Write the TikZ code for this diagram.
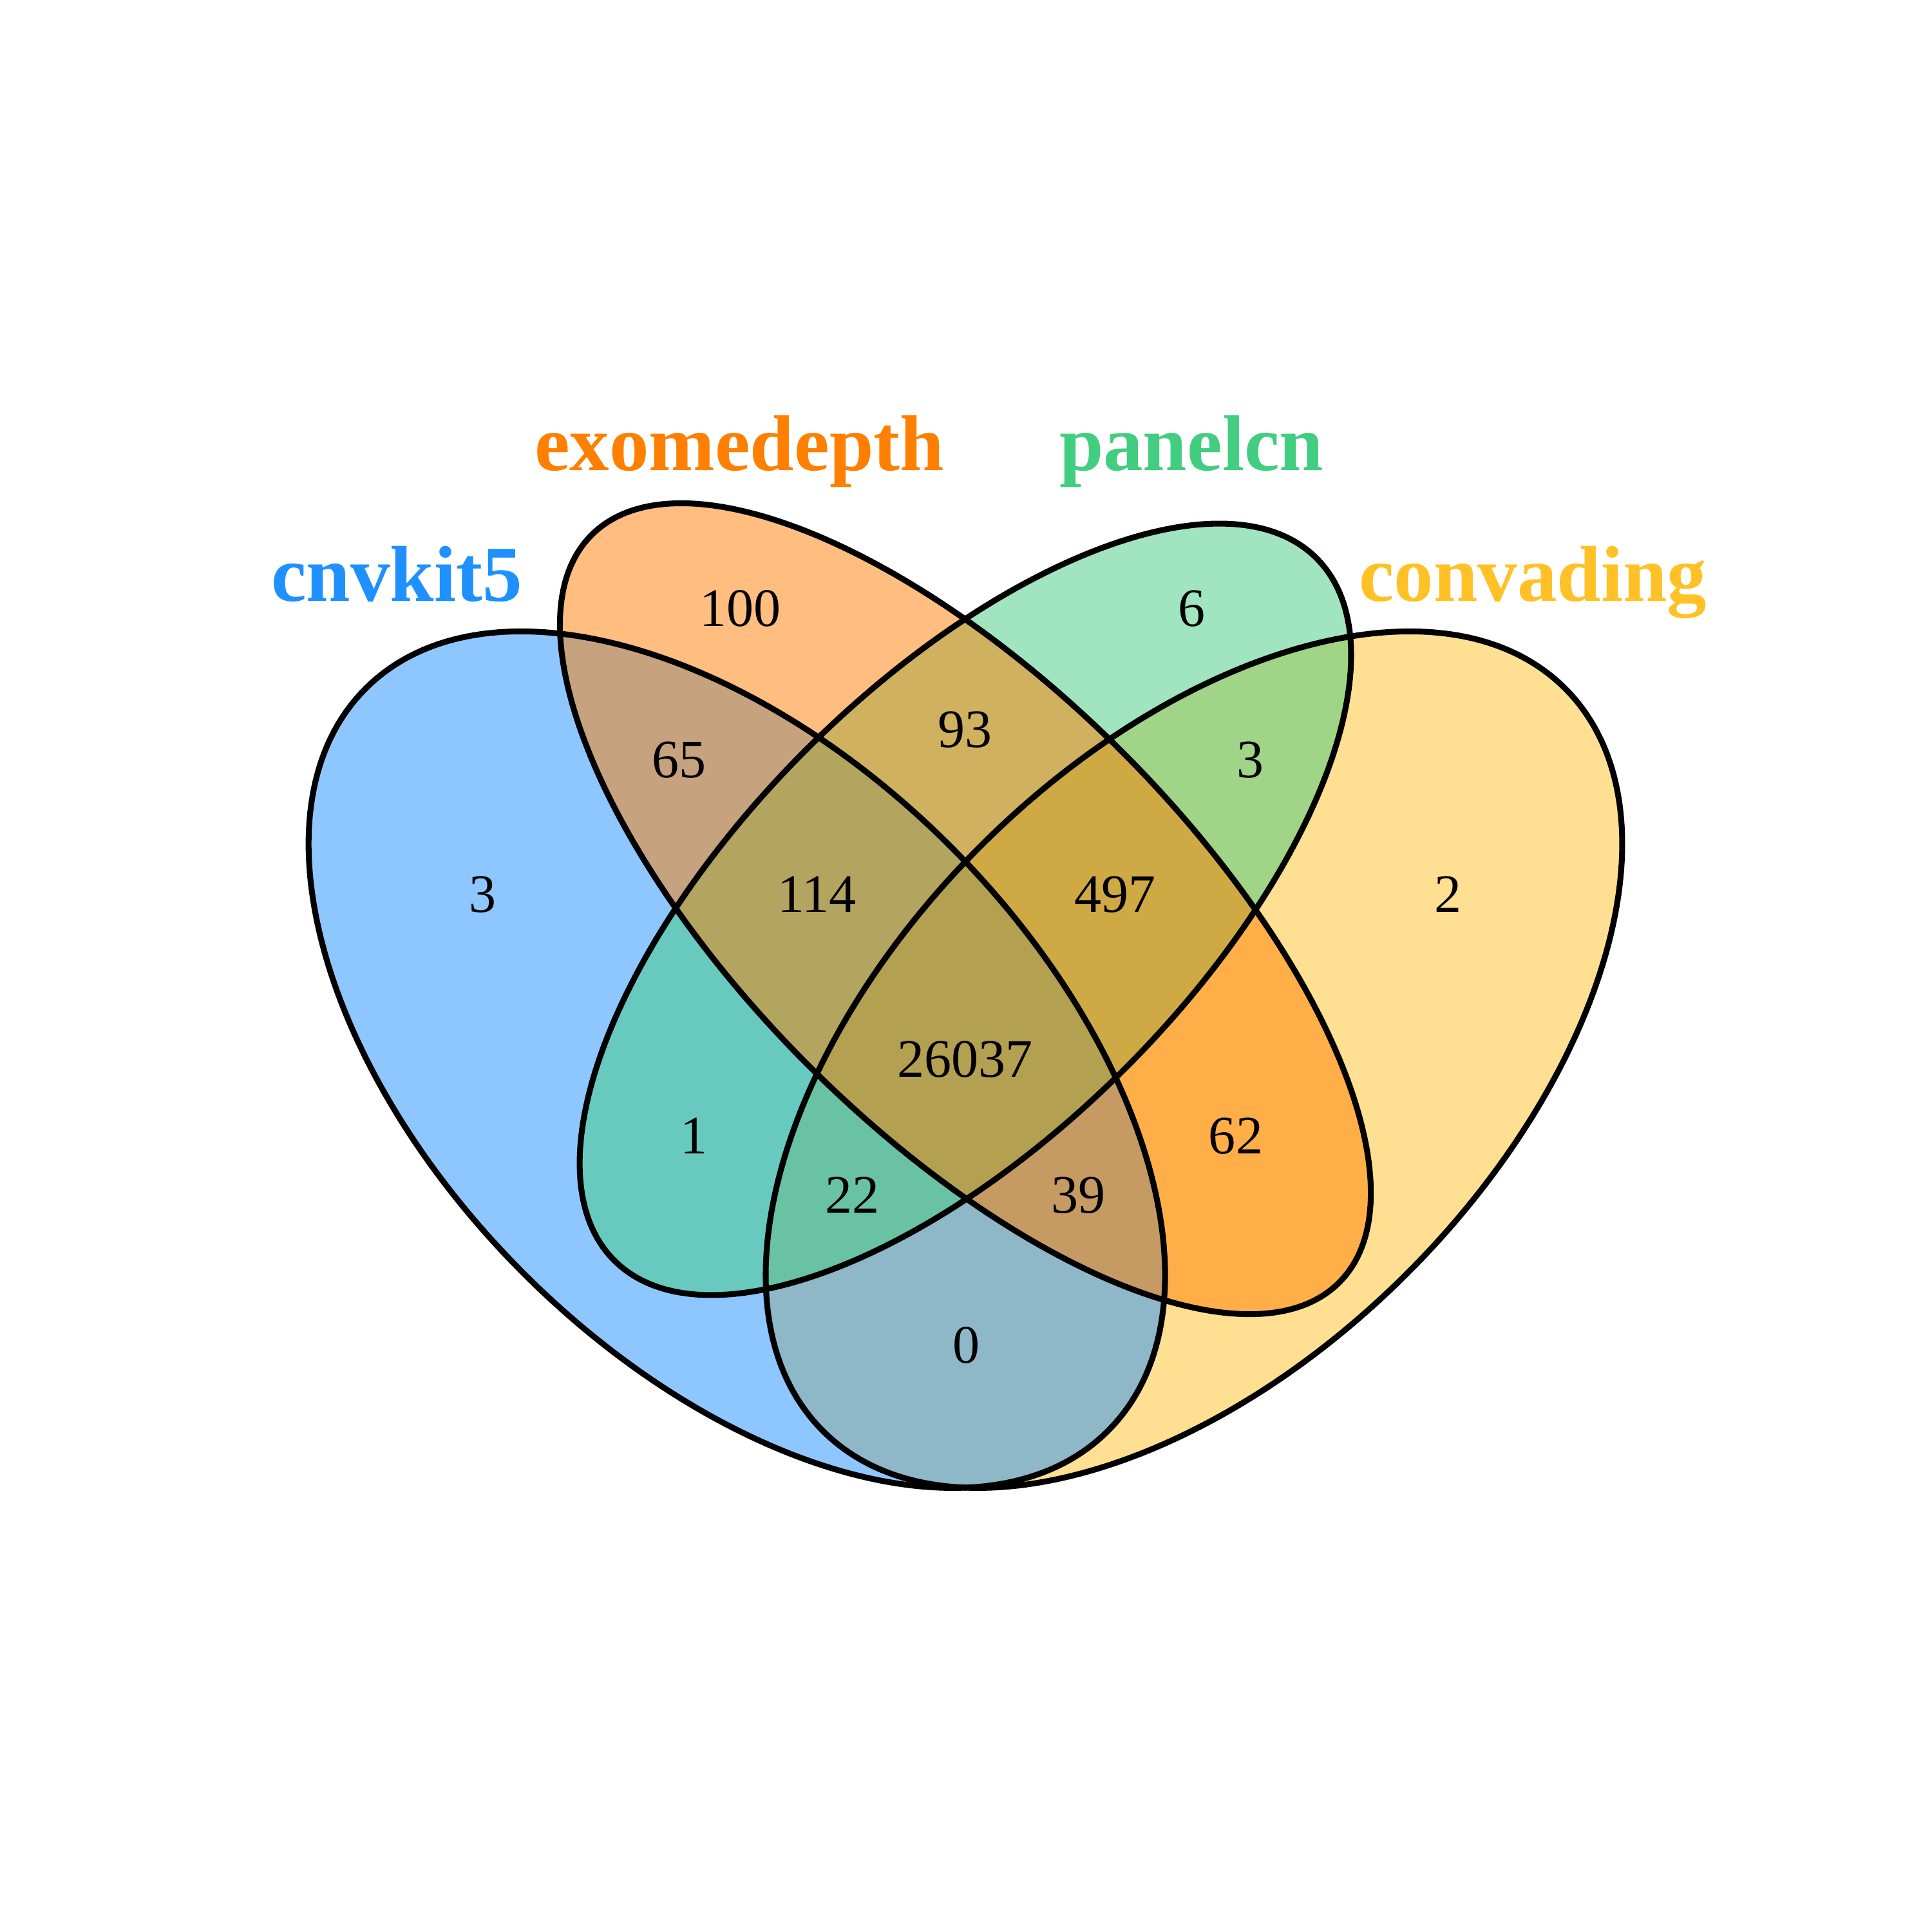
\documentclass[tikz,border=0pt]{standalone}
\usepackage{fontspec}
\setmainfont{Liberation Serif}
\usetikzlibrary{shapes.geometric}
\definecolor{setblue}{HTML}{1E90FF}
\definecolor{setorange}{HTML}{FF7F00}
\definecolor{setgreen}{HTML}{43CD80}
\definecolor{setyellow}{HTML}{FFC125}

\begin{document}
\begin{tikzpicture}[x=1mm, y=-1mm,
  setfill/.style={ellipse, inner sep=0pt, outer sep=0pt, fill opacity=0.5},
  setline/.style={ellipse, inner sep=0pt, outer sep=0pt, draw=black, line width=1.35pt},
  outerset/.style={minimum width=85.2mm, minimum height=49.0mm},
  orangeset/.style={minimum width=85.8mm, minimum height=36.0mm},
  greenset/.style={minimum width=80.6mm, minimum height=36.6mm},
  count/.style={inner sep=0pt, font=\fontsize{12.5}{15}\selectfont},
  setname/.style={anchor=base, inner sep=0pt, font=\fontsize{18.3}{22}\selectfont\bfseries}]
\fill[white] (0,0) rectangle (156.8,156.8);
% filled sets, back to front
\node[setfill, outerset, fill=setyellow, rotate=45] (convading) at (96.9,86.0) {};
\node[setfill, outerset, fill=setblue, rotate=-45] (cnvkit) at (59.8,86.0) {};
\node[setfill, greenset, fill=setgreen, rotate=45] (panelcn) at (78.35,73.8) {};
\node[setfill, orangeset, fill=setorange, rotate=-45] (exome) at (78.35,73.75) {};
% outlines on top
\node[setline, outerset, rotate=45] at (convading.center) {};
\node[setline, outerset, rotate=-45] at (cnvkit.center) {};
\node[setline, greenset, rotate=45] at (panelcn.center) {};
\node[setline, orangeset, rotate=-45] at (exome.center) {};
% set names
\node[setname, text=setblue] (cnvkitname) at (32.2,48.8) {cnvkit5};
\node[setname, text=setorange] (exomename) at (60.0,38.2) {exomedepth};
\node[setname, text=setgreen] (panelcnname) at (96.7,38.2) {panelcn};
\node[setname, text=setyellow] (convadingname) at (124.4,48.8) {convading};
% region counts
\node[count] (c) at (39.2,72.6) {3};
\node[count] (e) at (60.1,49.4) {100};
\node[count] (p) at (96.7,49.4) {6};
\node[count] (v) at (117.5,72.6) {2};
\node[count] (ce) at (55.1,61.7) {65};
\node[count] (ep) at (78.3,59.2) {93};
\node[count] (pv) at (101.5,61.7) {3};
\node[count] (cep) at (66.3,72.6) {114};
\node[count] (epv) at (90.5,72.6) {497};
\node[count] (cepv) at (78.3,86.0) {26037};
\node[count] (cp) at (56.3,92.2) {1};
\node[count] (ev) at (100.3,92.2) {62};
\node[count] (cpv) at (69.2,97.0) {22};
\node[count] (cev) at (87.5,97.0) {39};
\node[count] (cv) at (78.4,109.2) {0};
\end{tikzpicture}
\end{document}
